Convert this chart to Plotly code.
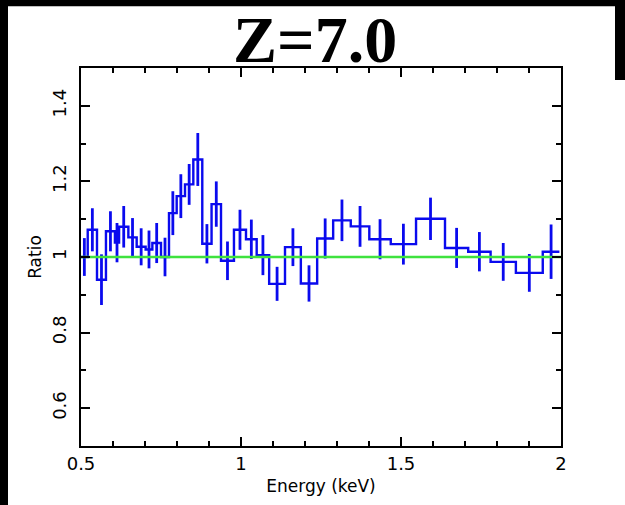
import plotly.graph_objects as go

# Bin edges (keV), ratio values and errors
edges = [0.500, 0.521, 0.550, 0.578, 0.606, 0.619, 0.648, 0.674, 0.702, 0.723,
         0.750, 0.775, 0.799, 0.825, 0.851, 0.879, 0.908, 0.9375, 0.978, 1.0156,
         1.049, 1.088, 1.1375, 1.187, 1.238, 1.288, 1.343, 1.401, 1.468, 1.547,
         1.6375, 1.710, 1.780, 1.859, 1.943, 1.995]
ratio = [1.00, 1.072, 0.94, 1.068, 1.038, 1.08, 1.052, 1.027, 1.02, 1.037,
         1.0, 1.116, 1.161, 1.192, 1.258, 1.035, 1.14, 0.99, 1.072, 1.047,
         1.005, 0.929, 1.026, 0.93, 1.049, 1.097, 1.081, 1.047, 1.034, 1.101,
         1.024, 1.014, 0.987, 0.958, 1.014]
ratio_err = [0.05, 0.057, 0.067, 0.053, 0.052, 0.055, 0.051, 0.049, 0.05, 0.053,
             0.051, 0.058, 0.058, 0.054, 0.07, 0.052, 0.06, 0.051, 0.053, 0.052,
             0.053, 0.045, 0.05, 0.048, 0.053, 0.055, 0.054, 0.053, 0.054, 0.056,
             0.053, 0.052, 0.05, 0.05, 0.072]
model_x = [0.5, 2.0]
model_y = [1.0, 1.0]

title_text = "Z=7.0"
x_ticks = [0.5, 1.0, 1.5, 2.0]
x_ticklabels = ["0.5", "1", "1.5", "2"]
y_ticks = [0.6, 0.8, 1.0, 1.2, 1.4]
y_ticklabels = ["0.6", "0.8", "1", "1.2", "1.4"]

centers = [(edges[i] + edges[i + 1]) / 2 for i in range(len(ratio))]

BLUE = "#0a0aee"
SANS = "DejaVu Sans, Verdana, sans-serif"
fig = go.Figure()
fig.add_trace(go.Scatter(
    x=edges, y=ratio + [ratio[-1]], mode="lines", line_shape="hv",
    line=dict(color=BLUE, width=2.4), hoverinfo="skip", showlegend=False))
fig.add_trace(go.Scatter(
    x=centers, y=ratio, mode="markers", marker=dict(size=1, color=BLUE, opacity=0),
    error_y=dict(type="data", array=ratio_err, visible=True, color=BLUE,
                 thickness=2.8, width=0),
    showlegend=False))
fig.add_trace(go.Scatter(
    x=model_x, y=model_y, mode="lines", line=dict(color="#3ee23e", width=2.4),
    showlegend=False))

L, R, T, B = 81, 64, 68, 57
W, H = 625, 505
pw, ph = W - L - R, H - T - B


def px(x):
    return (x - L) / pw


def py(y):
    return (H - B - y) / ph


shapes = [
    dict(type="rect", xref="paper", yref="paper", x0=px(-5), x1=px(8), y0=py(H + 5), y1=py(-5),
         fillcolor="black", line=dict(width=0), layer="above"),
    dict(type="rect", xref="paper", yref="paper", x0=px(-5), x1=px(W + 5), y0=py(6), y1=py(-5),
         fillcolor="black", line=dict(width=0), layer="above"),
    dict(type="rect", xref="paper", yref="paper", x0=px(615), x1=px(W + 5), y0=py(80), y1=py(-5),
         fillcolor="black", line=dict(width=0), layer="above"),
]

axis_common = dict(
    showgrid=False, zeroline=False, showline=True, linecolor="black", linewidth=2,
    mirror="allticks", ticks="inside", ticklen=9, tickwidth=2, tickcolor="black",
    tickfont=dict(family=SANS, size=18, color="black"),
)

fig.update_layout(
    width=W, height=H,
    margin=dict(l=L, r=R, t=T, b=B, pad=0),
    paper_bgcolor="white", plot_bgcolor="white",
    shapes=shapes,
    xaxis=dict(range=[0.5, 2.0], tickvals=x_ticks, ticktext=x_ticklabels,
               minor=dict(dtick=0.1, ticks="inside", ticklen=5, tickwidth=2, tickcolor="black"),
               title=dict(text="Energy (keV)", standoff=8,
                          font=dict(family=SANS, size=17, color="black")),
               **axis_common),
    yaxis=dict(range=[0.5, 1.5], tickvals=y_ticks, ticktext=y_ticklabels, tickangle=-90,
               ticklabelstandoff=6,
               minor=dict(dtick=0.1, ticks="inside", ticklen=5, tickwidth=2, tickcolor="black"),
               title=dict(text="Ratio", standoff=3,
                          font=dict(family=SANS, size=17, color="black")),
               **axis_common),
    annotations=[dict(text="<b>%s</b>" % title_text, xref="paper", yref="paper",
                      x=px(315), y=py(39), xanchor="center", yanchor="middle", showarrow=False,
                      font=dict(family="Liberation Serif, Times New Roman, serif", size=66,
                                color="black"))],
)

fig.write_html("out.html")
